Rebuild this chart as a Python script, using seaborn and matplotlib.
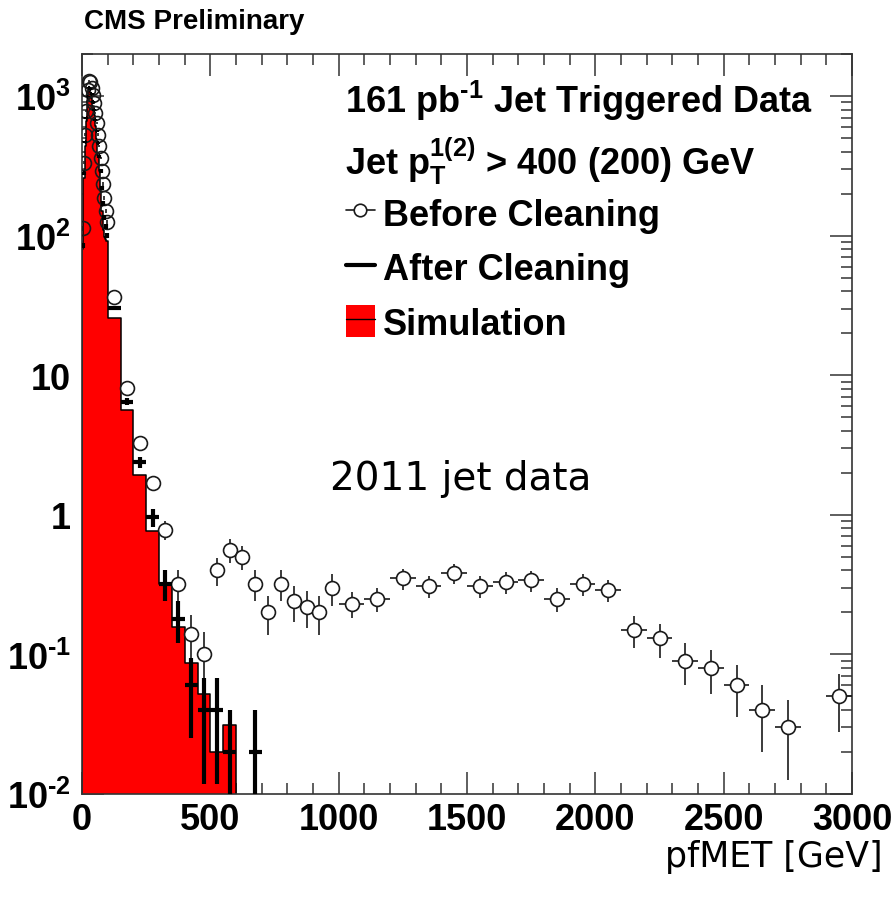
import numpy as np
import pandas as pd
import matplotlib
matplotlib.use("Agg")
import matplotlib.pyplot as plt
import seaborn as sns
from matplotlib.lines import Line2D
from matplotlib.patches import Patch
from matplotlib.legend_handler import HandlerTuple
from matplotlib.ticker import (FixedLocator, FixedFormatter, LogLocator,
                               MultipleLocator, NullFormatter)

# ---------------- data (values per GeV) ----------------
# binning: 5 GeV bins 0-100, 50 GeV bins 100-1000, 100 GeV bins 1000-3000
edges_fine = [0, 5, 10, 15, 20, 25, 30, 35, 40, 45, 50, 55, 60, 65, 70, 75, 80, 85, 90, 95, 100]
edges_mid = [100, 150, 200, 250, 300, 350, 400, 450, 500, 550, 600, 650, 700, 750, 800, 850, 900, 950, 1000]
edges_high = [1000, 1100, 1200, 1300, 1400, 1500, 1600, 1700, 1800, 1900, 2000,
              2100, 2200, 2300, 2400, 2500, 2600, 2700, 2800, 2900, 3000]

before_fine = [113, 334, 530, 780, 1100, 1280, 1250, 1150, 1020, 890,
               760, 640, 530, 440, 360, 290, 235, 185, 150, 125]
before_mid = [36.6, 8.1, 3.28, 1.69, 0.78, 0.32, 0.14, 0.10, 0.40,
              0.56, 0.50, 0.32, 0.20, 0.32, 0.24, 0.22, 0.20, 0.30]
before_high = [0.23, 0.25, 0.35, 0.31, 0.38, 0.31, 0.33, 0.34, 0.25, 0.32,
               0.29, 0.15, 0.13, 0.09, 0.08, 0.06, 0.04, 0.03, 0.0, 0.05]

after_fine = [85, 280, 470, 700, 990, 1150, 1120, 1030, 910, 790,
              670, 560, 460, 370, 290, 220, 170, 135, 116, 100]
after_mid = [30.5, 6.46, 2.37, 0.96, 0.32, 0.18, 0.06, 0.04, 0.04, 0.02, 0.0, 0.02]

sim_fine = [80, 260, 440, 660, 930, 1080, 1050, 960, 850, 730,
            610, 490, 380, 290, 210, 150, 110, 98, 95, 92]
sim_mid = [25.5, 5.6, 1.94, 0.77, 0.32, 0.157, 0.087, 0.052, 0.02, 0.031]

y_tick_values = [0.01, 0.1, 1, 10, 100, 1000]
y_tick_labels = [r"$\mathbf{10^{\text{-}2}}$", r"$\mathbf{10^{\text{-}1}}$", "1", "10",
                 r"$\mathbf{10^{2}}$", r"$\mathbf{10^{3}}$"]
x_tick_values = [0, 500, 1000, 1500, 2000, 2500, 3000]
x_tick_labels = ["0", "500", "1000", "1500", "2000", "2500", "3000"]

# ---------------- helpers ----------------
def bins_from(edge_lists, n):
    edges = []
    for e in edge_lists:
        edges = edges + (e if not edges else e[1:])
    edges = np.array(edges[: n + 1], dtype=float)
    centers = 0.5 * (edges[1:] + edges[:-1])
    widths = edges[1:] - edges[:-1]
    return edges, centers, widths

before_v = np.array(before_fine + before_mid + before_high)
_, before_x, before_w = bins_from([edges_fine, edges_mid, edges_high], len(before_v))
after_v = np.array(after_fine + after_mid)
_, after_x, after_w = bins_from([edges_fine, edges_mid], len(after_v))
sim_v = np.array(sim_fine + sim_mid)
sim_edges, sim_x, sim_w = bins_from([edges_fine, edges_mid], len(sim_v))
sim_df = pd.DataFrame({"met": sim_x, "w": sim_v})

# ---------------- style ----------------
sns.set_style("ticks")
plt.rcParams["font.family"] = ["Liberation Sans", "DejaVu Sans"]
plt.rcParams["text.color"] = "black"
plt.rcParams["xtick.color"] = "black"
plt.rcParams["ytick.color"] = "black"
plt.rcParams["mathtext.fontset"] = "custom"
plt.rcParams["mathtext.rm"] = "Liberation Sans:bold"
plt.rcParams["mathtext.bf"] = "Liberation Sans:bold"
plt.rcParams["mathtext.it"] = "Liberation Sans:bold"
plt.rcParams["mathtext.default"] = "bf"

W, H = 896, 903
fig = plt.figure(figsize=(W / 100, H / 100), dpi=100)
fig.patch.set_facecolor("white")
L, R, T, B = 82, 852, 55, 795
ax = fig.add_axes([L / W, 1 - B / H, (R - L) / W, (B - T) / H])
ax.set_facecolor("white")

# simulation histogram
sns.histplot(data=sim_df, x="met", weights="w", bins=list(sim_edges), element="step",
             fill=True, color="#ff0000", alpha=1, edgecolor="black", linewidth=1.1,
             ax=ax, zorder=1)
ax.set_yscale("log")

# before cleaning: open circles
m = before_v > 0
bx, bv, bw = before_x[m], before_v[m], before_w[m]
berr = np.sqrt(bv / bw)
fine = bw < 10
ax.errorbar(bx[~fine], bv[~fine], yerr=berr[~fine], xerr=bw[~fine] / 2, fmt="o",
            ms=10, mfc="white", mec="#1a1a1a", mew=1.2, ecolor="#1a1a1a",
            elinewidth=1.2, capsize=0, zorder=3)
ax.errorbar(bx[fine], bv[fine], yerr=berr[fine], fmt="o",
            ms=10, mfc="none", mec="#1a1a1a", mew=1.2, ecolor="#1a1a1a",
            elinewidth=1.2, capsize=0, zorder=3)

# after cleaning: thick black crosses
m = after_v > 0
ax_, av, aw = after_x[m], after_v[m], after_w[m]
aerr = np.sqrt(av / aw)
low = av - np.maximum(av - aerr, 1e-4)
ax.errorbar(ax_, av, yerr=[low, aerr], xerr=aw / 2, fmt="none", ecolor="black",
            elinewidth=3.0, capsize=0, zorder=4)

# axes
ax.set_xlim(0, 3000)
ax.set_ylim(0.01, 2000)
ax.set_xlabel("")
ax.set_ylabel("")
ax.xaxis.set_major_locator(FixedLocator(x_tick_values))
ax.xaxis.set_major_formatter(FixedFormatter(x_tick_labels))
ax.xaxis.set_minor_locator(MultipleLocator(100))
ax.yaxis.set_major_locator(FixedLocator(y_tick_values))
ax.yaxis.set_major_formatter(FixedFormatter(y_tick_labels))
ax.yaxis.set_minor_locator(LogLocator(base=10, subs=np.arange(2, 10)))
ax.yaxis.set_minor_formatter(NullFormatter())
ax.tick_params(which="both", direction="in", top=True, right=True,
               width=1.1, color="#333333", labelcolor="black", labelsize=26)
ax.tick_params(which="major", length=16)
ax.tick_params(which="minor", length=8)
ax.tick_params(axis="x", pad=6)
ax.tick_params(axis="y", pad=8)
for lab in ax.get_xticklabels() + ax.get_yticklabels():
    lab.set_fontweight("bold")
for s in ax.spines.values():
    s.set_linewidth(1.2)
    s.set_color("#333333")
    s.set_visible(True)

# texts
fig.text(84 / W, 1 - 22 / H, "CMS Preliminary", fontsize=20, fontweight="bold",
         ha="left", va="center", color="black")
fig.text(345 / W, 1 - 101 / H, r"161 pb$^{\text{-}1}$ Jet Triggered Data", fontsize=26,
         fontweight="bold", ha="left", va="center", color="black")
fig.text(345 / W, 1 - 161 / H, r"Jet p$_{\mathrm{T}}^{\mathrm{1(2)}}$ > 400 (200) GeV",
         fontsize=26, fontweight="bold", ha="left", va="center", color="black")

h_before = Line2D([0], [0], marker="o", color="#1a1a1a", lw=1.2, ms=9,
                  mfc="white", mec="#1a1a1a", mew=1.2)
h_after = Line2D([0], [0], color="black", lw=3.0)
h_sim = (Patch(facecolor="#ff0000", edgecolor="none"), Line2D([0], [0], color="black", lw=1.0))
leg = fig.legend([h_before, h_after, h_sim], ["Before Cleaning", "After Cleaning", "Simulation"],
                 loc="upper left", bbox_to_anchor=(346 / W, 1 - 197 / H),
                 frameon=False, handlelength=0.8, handleheight=1.0, handletextpad=0.22,
                 labelspacing=0.5, borderpad=0, borderaxespad=0,
                 prop={"family": "Liberation Sans", "weight": "bold", "size": 26},
                 labelcolor="black",
                 handler_map={tuple: HandlerTuple(ndivide=1, pad=0)})

fig.text(330 / W, 1 - 490 / H, "2011 jet data", fontsize=28, family="DejaVu Sans",
         ha="left", va="baseline", color="black")
fig.text(883 / W, 1 - 867 / H, "pfMET [GeV]", fontsize=25, family="DejaVu Sans",
         ha="right", va="baseline", color="black")

fig.savefig("out.png", dpi=100, facecolor="white")
